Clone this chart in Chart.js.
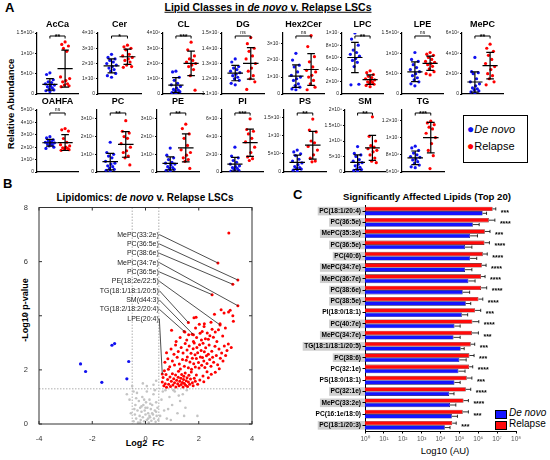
<!DOCTYPE html>
<html>
<head>
<meta charset="utf-8">
<script src="https://cdn.jsdelivr.net/npm/chart.js@4.4.1/dist/chart.umd.min.js"></script>
<style>
body { margin: 0; background: #fff; width: 550px; height: 460px; position: relative; overflow: hidden; font-family: "Liberation Sans", Arial, sans-serif; }
canvas { position: absolute; }
.t { position: absolute; white-space: nowrap; color: #000; transform: translate(-50%, -50%); line-height: 1; }
.lg { position: absolute; white-space: nowrap; color: #000; line-height: 1; }
</style>
</head>
<body>
<div class="lg" style="left:5px;top:1px;font-weight:bold;font-size:13px">A</div>
<div class="t" style="left:268px;top:7px;font-weight:bold;font-size:10.5px;text-decoration:underline">Lipid Classes in <i>de novo</i> v. Relapse LSCs</div>
<div class="t" style="left:11px;top:104px;font-weight:bold;font-size:9.5px;transform:translate(-50%,-50%) rotate(-90deg)">Relative Abundance</div>
<div class="lg" style="left:463px;top:115px;width:63px;height:46px;border:1.5px solid #000"></div>
<div class="lg" style="left:467px;top:123px;font-size:11px"><span style="color:#1010f0;font-size:12px">&#9679;</span><i>De novo</i></div>
<div class="lg" style="left:467px;top:140px;font-size:11px"><span style="color:#ff0000;font-size:12px">&#9679;</span>Relapse</div>

<div class="lg" style="left:3px;top:177px;font-weight:bold;font-size:13px">B</div>
<div class="t" style="left:145px;top:198px;font-weight:bold;font-size:10px">Lipidomics: <i>de novo</i> v. Relapse LSCs</div>
<div class="t" style="left:25px;top:310px;font-weight:bold;font-size:9px;transform:translate(-50%,-50%) rotate(-90deg)">-Log10 p-value</div>
<div class="t" style="left:145px;top:443px;font-weight:bold;font-size:9px">Log2&nbsp; FC</div>

<div class="lg" style="left:293px;top:188px;font-weight:bold;font-size:13px">C</div>
<div class="t" style="left:427px;top:197px;font-weight:bold;font-size:9.6px">Significantly Affected Lipids (Top 20)</div>
<div class="t" style="left:445px;top:451px;font-size:9.5px">Log10 (AU)</div>
<div class="lg" style="left:495px;top:410px;width:10px;height:7px;background:#1414ff;border:0.5px solid #000"></div>
<div class="lg" style="left:509px;top:408px;font-size:10px"><i>De novo</i></div>
<div class="lg" style="left:495px;top:421px;width:10px;height:7px;background:#ff0a0a;border:0.5px solid #000"></div>
<div class="lg" style="left:509px;top:419px;font-size:10px">Relapse</div>

<script>
// ---------- Panel A: lipid classes (values in units of the axis exponent) ----------
const acca_dn  = [0.52, 0.48, 0.35, 0.30, 0.28, 0.25, 0.22, 0.20, 0.18, 0.15, 0.12, 0.10, 0.08, 0.06];
const acca_rel = [1.28, 1.22, 1.18, 1.12, 1.05, 0.42, 0.38, 0.33, 0.30, 0.25, 0.22, 0.20, 0.18];
const cer_dn   = [2.6, 2.4, 2.3, 2.2, 2.1, 2.0, 1.9, 1.8, 1.7, 1.6, 1.5, 1.35, 1.2, 1.1];
const cer_rel  = [3.2, 3.1, 3.0, 2.9, 2.6, 2.5, 2.4, 2.3, 2.2, 2.1, 1.9, 1.8, 1.75];
const cl_dn    = [1.5, 1.45, 1.1, 0.9, 0.7, 0.6, 0.5, 0.4, 0.3, 0.25, 0.2, 0.15, 0.1, 0.05];
const cl_rel   = [3.4, 2.9, 2.5, 2.3, 2.2, 2.1, 2.0, 1.9, 1.8, 1.6, 1.2, 0.25];
const dg_dn    = [1.33, 1.31, 1.28, 1.27, 1.26, 1.25, 1.24, 1.23, 1.22, 1.21, 1.20, 1.19, 1.17, 1.16];
const dg_rel   = [1.47, 1.43, 1.40, 1.38, 1.35, 1.33, 1.30, 1.27, 1.25, 1.22, 1.20, 1.18, 1.13];
const hex_dn   = [2.4, 2.0, 1.7, 1.6, 1.3, 1.1, 1.0, 0.9, 0.8, 0.6, 0.5, 0.4, 0.3, 0.25];
const hex_rel  = [3.45, 2.8, 2.2, 1.9, 1.6, 1.4, 1.3, 1.1, 1.0, 0.8, 0.6, 0.4, 0.25];
const lpc_dn   = [10.0, 9.0, 8.0, 7.2, 6.8, 6.5, 6.2, 5.8, 5.5, 5.2, 4.5, 1.6, 1.5];
const lpc_rel  = [3.8, 3.5, 3.2, 2.9, 2.7, 2.5, 2.3, 2.2, 2.0, 1.9, 1.8, 1.6, 1.4, 1.2];
const lpe_dn   = [1.02, 0.85, 0.8, 0.72, 0.65, 0.6, 0.55, 0.5, 0.45, 0.4, 0.35, 0.3, 0.25, 0.2];
const lpe_rel  = [1.02, 0.98, 0.95, 0.9, 0.85, 0.8, 0.78, 0.75, 0.72, 0.68, 0.62, 0.55, 0.5, 0.47];
const mepc_dn  = [3.6, 2.2, 2.1, 2.0, 1.5, 1.2, 1.0, 0.8, 0.6, 0.5, 0.4, 0.3, 0.2, 0.1];
const mepc_rel = [4.9, 4.5, 4.2, 3.8, 3.4, 3.0, 2.7, 2.4, 2.0, 1.8, 1.5, 1.2, 0.9];
const oah_dn   = [2.85, 2.75, 2.6, 2.5, 2.45, 2.4, 2.35, 2.3, 2.25, 2.2, 2.1, 2.0, 1.9];
const oah_rel  = [3.5, 3.4, 3.3, 2.7, 2.4, 2.2, 2.1, 2.0, 1.95, 1.9, 1.85, 1.8, 1.75];
const pc_dn    = [1.68, 1.1, 1.0, 0.9, 0.8, 0.6, 0.5, 0.45, 0.35, 0.3, 0.2, 0.15, 0.1, 0.05];
const pc_rel   = [2.9, 2.3, 2.2, 2.0, 1.9, 1.6, 1.4, 1.2, 1.1, 0.9, 0.8, 0.4];
const pe_dn    = [1.35, 0.95, 0.8, 0.7, 0.55, 0.5, 0.45, 0.4, 0.3, 0.25, 0.2, 0.15, 0.1, 0.05];
const pe_rel   = [2.7, 2.45, 2.15, 1.9, 1.5, 1.25, 1.1, 0.95, 0.8, 0.7, 0.6, 0.2];
const pi_dn    = [2.8, 1.8, 1.6, 1.3, 1.1, 0.9, 0.7, 0.6, 0.5, 0.4, 0.3, 0.2, 0.1, 0.05];
const pi_rel   = [6.0, 4.8, 4.6, 4.3, 3.8, 3.4, 2.8, 2.2, 1.7, 1.5, 1.3];
const ps_dn    = [0.6, 0.55, 0.5, 0.45, 0.35, 0.3, 0.25, 0.2, 0.15, 0.12, 0.1, 0.08, 0.05, 0.03];
const ps_rel   = [1.45, 1.15, 1.1, 0.85, 0.8, 0.7, 0.6, 0.47, 0.38, 0.3, 0.28];
const sm_dn    = [0.82, 0.6, 0.55, 0.5, 0.4, 0.35, 0.3, 0.25, 0.2, 0.15, 0.1, 0.08, 0.05, 0.03];
const sm_rel   = [1.78, 1.15, 1.0, 0.85, 0.8, 0.75, 0.7, 0.65, 0.55, 0.45, 0.35, 0.3];
const tg_dn    = [0.9, 0.88, 0.85, 0.82, 0.8, 0.78, 0.77, 0.75, 0.74, 0.72, 0.7, 0.68, 0.66, 0.65];
const tg_rel   = [1.19, 1.17, 1.15, 1.12, 1.1, 1.05, 1.0, 0.93, 0.85, 0.79, 0.64];

const classNames = ['AcCa', 'Cer', 'CL', 'DG', 'Hex2Cer', 'LPC', 'LPE', 'MePC', 'OAHFA', 'PC', 'PE', 'PI', 'PS', 'SM', 'TG'];
const classSig   = ['**', '*', '***', 'ns', 'ns', '**', 'ns', '**', 'ns', '**', '**', '***', '**', '**', '***'];
const classTicks = [
  [0, 0.5, 1, 1.5], [0, 1, 2, 3, 4], [0, 1, 2, 3, 4], [1.1, 1.2, 1.3, 1.4, 1.5], [0, 1, 2, 3],
  [0, 2, 4, 6, 8, 10], [0, 0.5, 1, 1.5], [0, 2, 4, 6], [0, 1, 2, 3, 4, 5], [0, 1, 2, 3],
  [0, 1, 2, 3], [0, 2, 4, 6], [0, 0.5, 1, 1.5], [0, 0.5, 1, 1.5, 2], [0.6, 0.8, 1.0, 1.2]
];
const classTickLabels = [
  ['0', '5×10⁵', '1×10⁶', '1.5×10⁶'],
  ['0', '1×10⁷', '2×10⁷', '3×10⁷', '4×10⁷'],
  ['0', '1×10⁶', '2×10⁶', '3×10⁶', '4×10⁶'],
  ['1.1×10⁷', '1.2×10⁷', '1.3×10⁷', '1.4×10⁷', '1.5×10⁷'],
  ['0', '1×10⁷', '2×10⁷', '3×10⁷'],
  ['0', '2×10⁶', '4×10⁶', '6×10⁶', '8×10⁶', '1×10⁷'],
  ['0', '5×10⁵', '1×10⁶', '1.5×10⁶'],
  ['0', '2×10⁶', '4×10⁶', '6×10⁶'],
  ['0', '1×10⁶', '2×10⁶', '3×10⁶', '4×10⁶', '5×10⁶'],
  ['0', '1×10⁸', '2×10⁸', '3×10⁸'],
  ['0', '1×10⁸', '2×10⁸', '3×10⁸'],
  ['0', '2×10⁷', '4×10⁷', '6×10⁷'],
  ['0', '5×10⁶', '1×10⁷', '1.5×10⁷'],
  ['0', '5×10⁷', '1×10⁸', '1.5×10⁸', '2×10⁸'],
  ['6×10⁶', '8×10⁶', '1×10⁷', '1.2×10⁷']
];
const classMin = [0, 0, 0, 1.1, 0, 0, 0, 0, 0, 0, 0, 0, 0, 0, 0.6];
const classMax = [1.5, 4, 4, 1.5, 3.6, 10, 1.5, 6, 5, 3.5, 3.5, 7, 1.7, 2, 1.32];
const classDn  = [acca_dn, cer_dn, cl_dn, dg_dn, hex_dn, lpc_dn, lpe_dn, mepc_dn, oah_dn, pc_dn, pe_dn, pi_dn, ps_dn, sm_dn, tg_dn];
const classRel = [acca_rel, cer_rel, cl_rel, dg_rel, hex_rel, lpc_rel, lpe_rel, mepc_rel, oah_rel, pc_rel, pe_rel, pi_rel, ps_rel, sm_rel, tg_rel];

// ---------- Panel B: volcano plot points [log2 FC, -log10 p] ----------
const volcRed = [
  [0.63,1.55],[0.66,1.72],[0.69,1.41],[0.71,1.97],[0.74,1.49],[0.77,1.83],[0.79,1.36],[0.83,1.64],[0.86,2.02],[0.87,1.47],
  [0.92,1.74],[0.94,1.39],[0.97,1.58],[1.01,1.86],[1.03,1.44],[1.06,1.67],[1.09,1.52],[1.13,1.81],[1.14,1.37],[1.17,1.62],
  [1.21,1.49],[1.23,1.73],[1.24,1.95],[1.26,1.41],[1.29,1.58],[1.33,1.69],[1.34,1.46],[1.36,1.83],[1.39,1.53],[1.41,1.37],
  [1.43,1.64],[1.44,1.76],[1.46,1.5],[1.49,1.88],[1.51,1.43],[1.53,1.6],[1.56,1.71],[1.58,1.39],[1.61,1.55],[1.63,1.8],
  [1.66,1.47],[1.69,1.66],[1.72,1.92],[1.76,1.52],[1.79,1.41],[1.83,1.69],[1.87,1.58],[1.91,1.81],[1.96,1.47],[2.04,1.63],
  [0.73,2.28],[0.79,2.63],[0.84,2.41],[0.91,2.12],[0.96,2.77],[1.01,2.33],[1.07,2.58],[1.09,2.18],[1.13,2.92],[1.19,2.47],
  [1.23,2.68],[1.27,2.22],[1.31,2.03],[1.34,2.83],[1.39,2.38],[1.41,2.62],[1.46,2.13],[1.49,2.97],[1.53,2.36],[1.56,2.73],
  [1.57,2.48],[1.61,2.08],[1.64,2.88],[1.67,2.29],[1.71,2.61],[1.73,2.02],[1.76,2.43],[1.79,2.78],[1.81,2.23],[1.83,2.99],
  [1.86,2.56],[1.87,2.11],[1.91,2.42],[1.93,2.83],[1.96,2.63],[1.99,2.27],[2.01,2.07],[2.03,2.93],[2.06,2.48],[2.09,2.72],
  [2.11,2.17],[2.14,2.46],[2.16,2.98],[2.19,2.33],[2.21,2.67],[2.23,2.09],[2.26,2.82],[2.29,2.52],[2.31,2.24],[2.36,2.58],
  [2.39,2.92],[2.41,2.38],[2.46,2.13],[2.49,2.69],[2.52,2.47],[2.56,2.28],[2.61,2.87],[2.66,2.53],[2.71,2.19],[2.76,2.77],
  [2.81,2.43],[2.86,2.62],[2.91,2.33],[2.96,2.88],[3.01,2.53],[3.06,2.72],[3.11,2.96],[3.22,2.83],[2.16,1.77],[2.31,1.93],
  [2.47,1.84],[2.62,1.91],[2.77,2.04],[2.19,1.56],[2.36,1.71],
  [0.98,3.46],[1.15,3.05],[1.3,3.2],[1.45,3.42],[1.55,3.1],[1.62,3.3],[1.75,3.32],[1.8,3.05],[1.88,3.55],[1.92,3.2],
  [2.02,3.69],[2.05,3.35],[2.1,3.1],[2.13,3.42],[2.2,3.6],[2.25,3.15],[2.32,3.36],[2.36,3.13],[2.42,3.26],[2.46,3.76],
  [2.5,3.5],[2.55,3.21],[2.59,4.06],[2.62,3.4],[2.68,3.05],[2.74,3.48],[2.8,3.7],[2.84,4.22],[2.9,3.25],[2.95,4.1],
  [3.0,3.55],[3.12,4.14],[3.18,4.2],[3.28,4.0],[3.3,3.8],[1.82,3.93],[1.9,3.94],[2.21,3.7],[3.13,7.06]
];
const volcBlue = [[-2.44,2.22],[-2.25,1.94],[-1.64,1.54],[-1.26,2.91],[-1.16,2.97],[-0.63,2.31],[-0.7,1.67]];
const volcGrey = [
  [-0.45,0.1],[-0.4,0.35],[-0.38,0.7],[-0.35,0.2],[-0.3,0.5],[-0.28,0.05],[-0.25,0.85],[-0.22,0.3],[-0.2,0.6],[-0.18,0.15],
  [-0.15,0.45],[-0.12,1.0],[-0.1,0.25],[-0.08,0.7],[-0.05,0.1],[-0.03,0.5],[0.0,0.35],[0.02,0.8],[0.05,0.15],[0.07,0.6],
  [0.1,0.4],[0.12,0.05],[0.15,0.9],[0.17,0.25],[0.2,0.55],[0.22,0.12],[0.25,0.7],[0.28,0.35],[0.3,1.1],[0.32,0.2],
  [0.35,0.5],[0.38,0.08],[0.4,0.8],[0.42,0.3],[0.45,0.6],[0.48,0.15],[-0.42,0.55],[-0.32,1.15],[-0.15,0.65],[0.05,1.2],
  [0.18,0.75],[0.35,1.25],[-0.05,0.9],[0.25,0.4],[0.1,0.2],[-0.2,0.05],[0.0,0.6],[0.4,0.45],[-0.35,0.95],[0.15,0.3],
  [-0.55,0.4],[-0.6,0.9],[-0.7,1.1],[-0.5,1.4],[-0.45,1.2],[0.55,0.3],[0.6,0.9],[0.65,1.2],[0.7,0.5],[0.75,1.25],
  [0.8,0.2],[0.9,1.0],[1.0,0.7],[1.1,1.2],[1.2,0.4],[1.3,0.85],[1.4,1.1],[1.5,0.6],[1.55,1.25],[1.45,0.3],
  [0.85,0.55],[1.05,1.25],[1.25,1.05],[1.95,0.3],[0.95,0.15],[0.05,1.4],[-0.1,1.5],[0.3,1.45],[0.4,1.6]
];
const volcLabels  = ['MePC(33:2e)', 'PC(36:5e)', 'PC(38:6e)', 'MePC(34:7e)', 'PC(36:5e)', 'PE(18:2e/22:5)',
                     'TG(18:1/18:1/20:5)', 'SM(d44:3)', 'TG(18:2/18:2/20:4)', 'LPE(20:4)'];
const volcTargets = [[2.72,5.95],[3.47,5.32],[3.28,5.16],[3.47,4.37],[2.5,4.78],[2.8,3.66],
                     [1.61,3.75],[1.8,3.3],[1.48,3.4],[0.63,1.85]];
const volcXTicks = [-4, -2, 0, 2, 4];
const volcYTicks = [0, 2, 4, 6, 8];

// ---------- Panel C: top 20 lipids ----------
const lipids = ['PC(18:1/20:4)', 'PC(36:5e)', 'MePC(35:3e)', 'PC(36:5e)', 'PC(40:6)', 'MePC(34:7e)', 'MePC(36:7e)',
                'PC(38:6e)', 'PC(38:5e)', 'PI(18:0/18:1)', 'PC(40:7e)', 'MePC(34:7e)', 'TG(18:1/18:1/20:5)', 'PC(38:6)',
                'PC(32:1e)', 'PS(18:0/18:1)', 'PC(32:1e)', 'MePC(33:2e)', 'PC(16:1e/18:0)', 'PC(18:1/20:3)'];
const relapseAU = [5.75e6, 3.63e6, 2.24e6, 2.14e6, 1.74e6, 1.55e6, 1.41e6, 1.41e6, 1.02e6, 6.8e5,
                   4.9e5, 4.6e5, 4.0e5, 3.4e5, 3.3e5, 2.45e5, 2.2e5, 1.66e5, 1.5e5, 4.2e4];
const relapseSD = [2.75e6, 3.97e6, 1.96e6, 1.76e6, 1.26e6, 1.05e6, 8.9e5, 1.39e6, 7.2e5, 6.7e5,
                   5.8e5, 5.6e5, 2.5e5, 2.6e5, 1.8e5, 2.15e5, 1.8e5, 1.34e5, 1.5e5, 2.6e4];
const denovoAU  = [1.7e6, 5.2e5, 3.7e5, 2.0e5, 3.7e5, 2.0e5, 3.0e5, 1.5e5, 2.2e5, 1.35e5,
                   5.5e4, 4.9e4, 1.17e5, 1.0e5, 8.9e4, 5.5e4, 2.9e4, 3.2e4, 4.0e4, 1.7e4];
const denovoSD  = [1.05e6, 6.0e5, 5.4e5, 2.6e5, 4.6e5, 2.6e5, 3.8e5, 2.0e5, 1.8e5, 1.4e5,
                   5.5e4, 6.1e4, 6.3e4, 1.3e5, 1.11e5, 5.5e4, 2.3e4, 3.3e4, 3.9e4, 1.5e4];
const lipidStars = ['***', '****', '***', '****', '****', '****', '****', '****', '****', '***',
                    '****', '***', '***', '***', '****', '***', '****', '****', '***', '***'];
const highlighted = [1, 1, 1, 1, 1, 1, 1, 1, 1, 0, 1, 1, 1, 1, 0, 0, 1, 1, 0, 1];
const auTicks = [1, 10, 100, 1e3, 1e4, 1e5, 1e6, 1e7, 1e8];

// ---------- drawing ----------
Chart.defaults.font.family = '"Liberation Sans", Arial, sans-serif';
Chart.defaults.animation = false;

const BLUE = '#1010f0';
const RED = '#ff0000';
const SUP = '⁰¹²³⁴⁵⁶⁷⁸⁹';

const mean = a => a.reduce((s, v) => s + v, 0) / a.length;
const sdev = a => {
  const m = mean(a);
  return Math.sqrt(a.reduce((s, v) => s + (v - m) * (v - m), 0) / (a.length - 1));
};

function addCanvas(left, top, w, h) {
  const c = document.createElement('canvas');
  c.width = w; c.height = h;
  c.style.left = left + 'px'; c.style.top = top + 'px';
  document.body.appendChild(c);
  return c;
}

// spread of points sharing a column (GraphPad style scatter)
const spread = [0, -0.22, 0.22, -0.11, 0.11, -0.3, 0.3, 0.05, -0.16, 0.16, -0.05, 0.26, -0.26, 0.0];

const dotPlotMarks = {
  id: 'dotPlotMarks',
  afterDatasetsDraw(chart, args, o) {
    const { ctx, chartArea, scales: { x, y } } = chart;
    ctx.save();
    ctx.strokeStyle = '#000';
    ctx.lineWidth = 1.2;
    [o.dn, o.rel].forEach((vals, g) => {
      const m = mean(vals), s = sdev(vals);
      const cx = x.getPixelForValue(g);
      const hw = x.getPixelForValue(g + 0.5) - cx;
      const cw = x.getPixelForValue(g + 0.25) - cx;
      const ym = y.getPixelForValue(m);
      const yt = y.getPixelForValue(m + s);
      const yb = y.getPixelForValue(Math.max(m - s, y.min));
      ctx.beginPath();
      ctx.moveTo(cx - hw, ym); ctx.lineTo(cx + hw, ym);
      ctx.moveTo(cx, yt); ctx.lineTo(cx, yb);
      ctx.moveTo(cx - cw, yt); ctx.lineTo(cx + cw, yt);
      if (m - s > y.min) { ctx.moveTo(cx - cw, yb); ctx.lineTo(cx + cw, yb); }
      ctx.stroke();
    });
    // significance bracket
    const bx0 = x.getPixelForValue(0), bx1 = x.getPixelForValue(1), by = chartArea.top + 3;
    ctx.lineWidth = 1;
    ctx.beginPath();
    ctx.moveTo(bx0, by + 2.5); ctx.lineTo(bx0, by); ctx.lineTo(bx1, by); ctx.lineTo(bx1, by + 2.5);
    ctx.stroke();
    ctx.fillStyle = '#000';
    ctx.textAlign = 'center';
    if (o.sig === 'ns') {
      ctx.font = '5px "Liberation Sans", Arial, sans-serif';
      ctx.textBaseline = 'bottom';
      ctx.fillText('ns', (bx0 + bx1) / 2, by - 0.5);
    } else {
      ctx.font = 'bold 7px "Liberation Sans", Arial, sans-serif';
      ctx.textBaseline = 'middle';
      ctx.fillText(o.sig, (bx0 + bx1) / 2, by + 1);
    }
    // subplot title
    ctx.font = 'bold 9px "Liberation Sans", Arial, sans-serif';
    ctx.textBaseline = 'middle';
    ctx.fillText(o.title, (chartArea.left + chartArea.right) / 2, chartArea.top - 8);
    ctx.restore();
  }
};

const rowTop = [33, 110];
const rowH = [61, 62];
const classPos = [[37, 42], [98, 44], [163, 42], [222, 43], [283, 42], [342, 42], [402, 42], [462, 42],
                  [37, 42], [97, 43], [157, 43], [222, 42], [284, 43], [345, 41], [402, 43]];
const YW = 32, PT = 22;

classNames.forEach((name, i) => {
  const row = i < 8 ? 0 : 1;
  const [ax, w] = classPos[i];
  const h = rowH[row];
  const cv = addCanvas(ax - YW, rowTop[row] - PT, YW + w + 3, PT + h + 4);
  const ticks = classTicks[i], labels = classTickLabels[i];
  new Chart(cv, {
    type: 'scatter',
    data: {
      datasets: [
        { data: classDn[i].map((v, k) => ({ x: 0 + spread[k % spread.length], y: v })),
          backgroundColor: BLUE, borderWidth: 0, pointRadius: 1.6 },
        { data: classRel[i].map((v, k) => ({ x: 1 + spread[k % spread.length], y: v })),
          backgroundColor: RED, borderWidth: 0, pointRadius: 1.6 }
      ]
    },
    options: {
      responsive: false,
      layout: { padding: { left: 0, right: 3, top: PT, bottom: 4 } },
      plugins: {
        legend: { display: false }, tooltip: { enabled: false },
        dotPlotMarks: { dn: classDn[i], rel: classRel[i], sig: classSig[i], title: name }
      },
      scales: {
        x: {
          type: 'linear', min: -0.85, max: 1.85,
          ticks: { display: false }, grid: { display: false },
          border: { color: '#000', width: 1.2 },
          afterFit(s) { s.height = 0; }
        },
        y: {
          min: classMin[i], max: classMax[i],
          afterBuildTicks(s) { s.ticks = ticks.map(v => ({ value: v })); },
          ticks: { autoSkip: false, callback: (v, k) => labels[k], font: { size: 5 }, color: '#222', padding: 1 },
          grid: { drawOnChartArea: false, tickLength: 2, color: '#000' },
          border: { color: '#000', width: 1.2 },
          afterFit(s) { s.width = YW; }
        }
      }
    },
    plugins: [dotPlotMarks]
  });
});

// ---------- Panel B ----------
const volcMarks = {
  id: 'volcMarks',
  beforeDatasetsDraw(chart) {
    const { ctx, chartArea: a, scales: { x, y } } = chart;
    ctx.save();
    ctx.strokeStyle = '#9a9a9a';
    ctx.lineWidth = 0.8;
    ctx.setLineDash([1.5, 1.5]);
    ctx.beginPath();
    [-0.5, 0.5].forEach(v => { const px = x.getPixelForValue(v); ctx.moveTo(px, a.top); ctx.lineTo(px, a.bottom); });
    const py = y.getPixelForValue(1.3);
    ctx.moveTo(a.left, py); ctx.lineTo(a.right, py);
    ctx.stroke();
    ctx.restore();
  },
  afterDatasetsDraw(chart) {
    const { ctx, chartArea: a, scales: { x, y } } = chart;
    ctx.save();
    // frame with inward ticks
    ctx.strokeStyle = '#333';
    ctx.lineWidth = 1;
    ctx.strokeRect(a.left, a.top, a.right - a.left, a.bottom - a.top);
    ctx.beginPath();
    volcXTicks.forEach(v => {
      const px = x.getPixelForValue(v);
      ctx.moveTo(px, a.bottom); ctx.lineTo(px, a.bottom - 3);
      ctx.moveTo(px, a.top); ctx.lineTo(px, a.top + 3);
    });
    volcYTicks.forEach(v => {
      const py = y.getPixelForValue(v);
      ctx.moveTo(a.left, py); ctx.lineTo(a.left + 3, py);
      ctx.moveTo(a.right, py); ctx.lineTo(a.right - 3, py);
    });
    ctx.stroke();
    // labels with leader lines
    ctx.font = '7px "Liberation Sans", Arial, sans-serif';
    ctx.fillStyle = '#222';
    ctx.textAlign = 'right';
    ctx.textBaseline = 'middle';
    ctx.strokeStyle = '#222';
    ctx.lineWidth = 0.8;
    const lx = x.getPixelForValue(0.5);
    volcLabels.forEach((txt, i) => {
      const ly = y.getPixelForValue(7.0 - i * 0.345);
      ctx.fillText(txt, lx, ly);
      const [tx, ty] = volcTargets[i];
      ctx.beginPath();
      ctx.moveTo(lx + 0.5, ly);
      ctx.lineTo(x.getPixelForValue(tx), y.getPixelForValue(ty));
      ctx.stroke();
    });
    ctx.restore();
  }
};

const cvB = addCanvas(0, 200, 270, 260);
new Chart(cvB, {
  type: 'scatter',
  data: {
    datasets: [
      { data: volcGrey.map(p => ({ x: p[0], y: p[1] })), backgroundColor: '#c4c4c4', borderWidth: 0, pointRadius: 1.3 },
      { data: volcBlue.map(p => ({ x: p[0], y: p[1] })), backgroundColor: BLUE, borderWidth: 0, pointRadius: 1.6 },
      { data: volcRed.concat(volcTargets).map(p => ({ x: p[0], y: p[1] })), backgroundColor: RED, borderWidth: 0, pointRadius: 1.5 }
    ]
  },
  options: {
    responsive: false,
    layout: { padding: { left: 0, right: 18, top: 7, bottom: 0 } },
    plugins: { legend: { display: false }, tooltip: { enabled: false } },
    scales: {
      x: {
        type: 'linear', min: -4, max: 4,
        afterBuildTicks(s) { s.ticks = volcXTicks.map(v => ({ value: v })); },
        ticks: { font: { size: 7.5 }, color: '#333', padding: 2 },
        grid: { display: false }, border: { display: false },
        afterFit(s) { s.height = 36; }
      },
      y: {
        min: 0, max: 8,
        afterBuildTicks(s) { s.ticks = volcYTicks.map(v => ({ value: v })); },
        ticks: { font: { size: 7.5 }, color: '#333', padding: 3 },
        grid: { display: false }, border: { display: false },
        afterFit(s) { s.width = 39; }
      }
    }
  },
  plugins: [volcMarks]
});

// ---------- Panel C ----------
const LABEL_FONT = 'bold 6.6px "Liberation Sans", Arial, sans-serif';
const barMarks = {
  id: 'barMarks',
  beforeDraw(chart) {
    const { ctx, scales: { y } } = chart;
    ctx.save();
    ctx.font = LABEL_FONT;
    ctx.fillStyle = '#cfcfcf';
    lipids.forEach((name, i) => {
      if (!highlighted[i]) return;
      const py = y.getPixelForTick(i);
      const tw = ctx.measureText(name).width;
      const right = y.right;
      ctx.fillRect(right - 4 - tw - 1.5, py - 4.3, tw + 5.5, 8.6);
    });
    ctx.restore();
  },
  afterDatasetsDraw(chart) {
    const { ctx, scales: { x, y } } = chart;
    ctx.save();
    ctx.strokeStyle = '#000';
    ctx.lineWidth = 0.8;
    const sds = [relapseSD, denovoSD];
    const vals = [relapseAU, denovoAU];
    const ends = lipids.map(() => 0);
    [0, 1].forEach(d => {
      chart.getDatasetMeta(d).data.forEach((bar, i) => {
        const ex = x.getPixelForValue(vals[d][i] + sds[d][i]);
        ends[i] = Math.max(ends[i], ex);
        ctx.beginPath();
        ctx.moveTo(bar.x, bar.y); ctx.lineTo(ex, bar.y);
        ctx.moveTo(ex, bar.y - 1.6); ctx.lineTo(ex, bar.y + 1.6);
        ctx.stroke();
      });
    });
    ctx.fillStyle = '#000';
    ctx.font = 'bold 7px "Liberation Sans", Arial, sans-serif';
    ctx.textAlign = 'left';
    ctx.textBaseline = 'middle';
    lipidStars.forEach((s, i) => ctx.fillText(s, ends[i] + 5, y.getPixelForTick(i) + 1.5));
    ctx.restore();
  }
};

const cvC = addCanvas(290, 200, 260, 260);
new Chart(cvC, {
  type: 'bar',
  data: {
    labels: lipids,
    datasets: [
      { label: 'Relapse', data: relapseAU, backgroundColor: '#ff0a0a', borderColor: '#5a0000', borderWidth: 0.6 },
      { label: 'De novo', data: denovoAU, backgroundColor: '#1414ff', borderColor: '#00005a', borderWidth: 0.6 }
    ]
  },
  options: {
    indexAxis: 'y',
    responsive: false,
    layout: { padding: { left: 0, right: 34, top: 4, bottom: 0 } },
    datasets: { bar: { categoryPercentage: 0.78, barPercentage: 1.0 } },
    plugins: { legend: { display: false }, tooltip: { enabled: false } },
    scales: {
      x: {
        type: 'logarithmic', min: 1, max: 1e8,
        afterBuildTicks(s) { s.ticks = auTicks.map(v => ({ value: v })); },
        ticks: {
          autoSkip: false, font: { size: 6.5 }, color: '#555', padding: 2, maxRotation: 0,
          callback: v => '10' + SUP[Math.round(Math.log10(v))]
        },
        grid: { drawOnChartArea: false, tickLength: 2.5, color: '#000' },
        border: { color: '#000', width: 1 },
        afterFit(s) { s.height = 29; }
      },
      y: {
        ticks: { autoSkip: false, font: { size: 6.6, weight: 'bold' }, color: '#000', padding: 1.5 },
        grid: { drawOnChartArea: false, tickLength: 2.5, color: '#000', offset: false },
        border: { color: '#000', width: 1 },
        afterFit(s) { s.width = 75; }
      }
    }
  },
  plugins: [barMarks]
});
</script>
</body>
</html>
